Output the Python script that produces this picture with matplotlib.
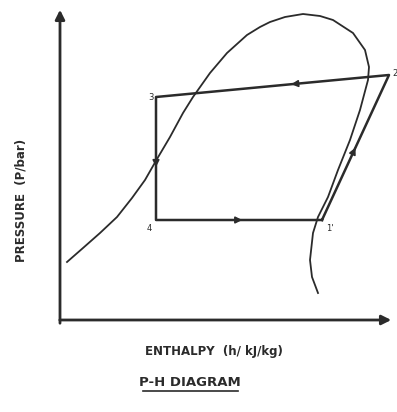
import matplotlib
matplotlib.use("Agg")
import matplotlib.pyplot as plt

# saturation dome, enthalpy h vs pressure P (arbitrary sketch units)
dome_h = [67, 83, 100, 117, 132, 145, 157, 170, 183, 193, 210, 227, 247, 260, 270, 285,
          303, 320, 333, 353, 365, 369, 368, 360, 350, 338, 328, 318, 313, 310, 312, 318]
dome_p = [150, 164, 179, 195, 214, 232, 253, 275, 299, 315, 339, 359, 377, 385, 390, 395,
          398, 396, 392, 379, 362, 345, 332, 302, 272, 242, 215, 195, 179, 152, 135, 119]

# cycle states 1-2-3-4
cycle_h = [322, 389, 156, 156, 322]
cycle_p = [192, 337, 315, 192, 192]
cycle_labels = ["1'", "2", "3", "4"]

ink = "#2b2b2b"

fig = plt.figure(figsize=(3.97, 4.12), dpi=100)
ax = fig.add_axes([0, 0, 1, 1])
ax.set_xlim(0, 397)
ax.set_ylim(0, 412)
ax.axis("off")

# axes drawn as arrows
ax.annotate("", xy=(60, 405), xytext=(60, 86),
            arrowprops=dict(arrowstyle="-|>", color=ink, lw=2, mutation_scale=14))
ax.annotate("", xy=(394, 92), xytext=(57, 92),
            arrowprops=dict(arrowstyle="-|>", color=ink, lw=2, mutation_scale=14))

ax.plot(dome_h, dome_p, color=ink, lw=1.3, solid_joinstyle="round")
ax.plot(cycle_h, cycle_p, color=ink, lw=1.8)

# flow direction arrows on each process
def mid_arrow(h0, p0, h1, p1, f=0.5):
    hm = h0 + (h1 - h0) * f
    pm = p0 + (p1 - p0) * f
    ax.annotate("", xy=(hm + (h1 - h0) * 0.02, pm + (p1 - p0) * 0.02), xytext=(hm, pm),
                arrowprops=dict(arrowstyle="-|>", color=ink, lw=1.2, mutation_scale=10))

mid_arrow(cycle_h[0], cycle_p[0], cycle_h[1], cycle_p[1], 0.48)
mid_arrow(cycle_h[1], cycle_p[1], cycle_h[2], cycle_p[2], 0.4)
mid_arrow(cycle_h[2], cycle_p[2], cycle_h[3], cycle_p[3], 0.55)
mid_arrow(cycle_h[3], cycle_p[3], cycle_h[4], cycle_p[4], 0.5)

# state labels
ax.text(cycle_h[0] + 4, cycle_p[0] - 4, cycle_labels[0], fontsize=6, color=ink, ha="left", va="top")
ax.text(cycle_h[1] + 3, cycle_p[1] + 2, cycle_labels[1], fontsize=6, color=ink, ha="left", va="center")
ax.text(cycle_h[2] - 2, cycle_p[2], cycle_labels[2], fontsize=6, color=ink, ha="right", va="center")
ax.text(cycle_h[3] - 4, cycle_p[3] - 4, cycle_labels[3], fontsize=6, color=ink, ha="right", va="top")

ax.text(21, 212, "PRESSURE  (P/bar)", rotation=90, fontsize=8.5, fontweight="bold",
        color=ink, ha="center", va="center")
ax.text(214, 60, "ENTHALPY  (h/ kJ/kg)", fontsize=8.5, fontweight="bold",
        color=ink, ha="center", va="center")
ax.text(190, 30, "P-H DIAGRAM", fontsize=9.5, fontweight="bold",
        color=ink, ha="center", va="center")
ax.plot([143, 238], [21, 21], color=ink, lw=1.2)

fig.savefig("out.png", dpi=100, facecolor="white")
